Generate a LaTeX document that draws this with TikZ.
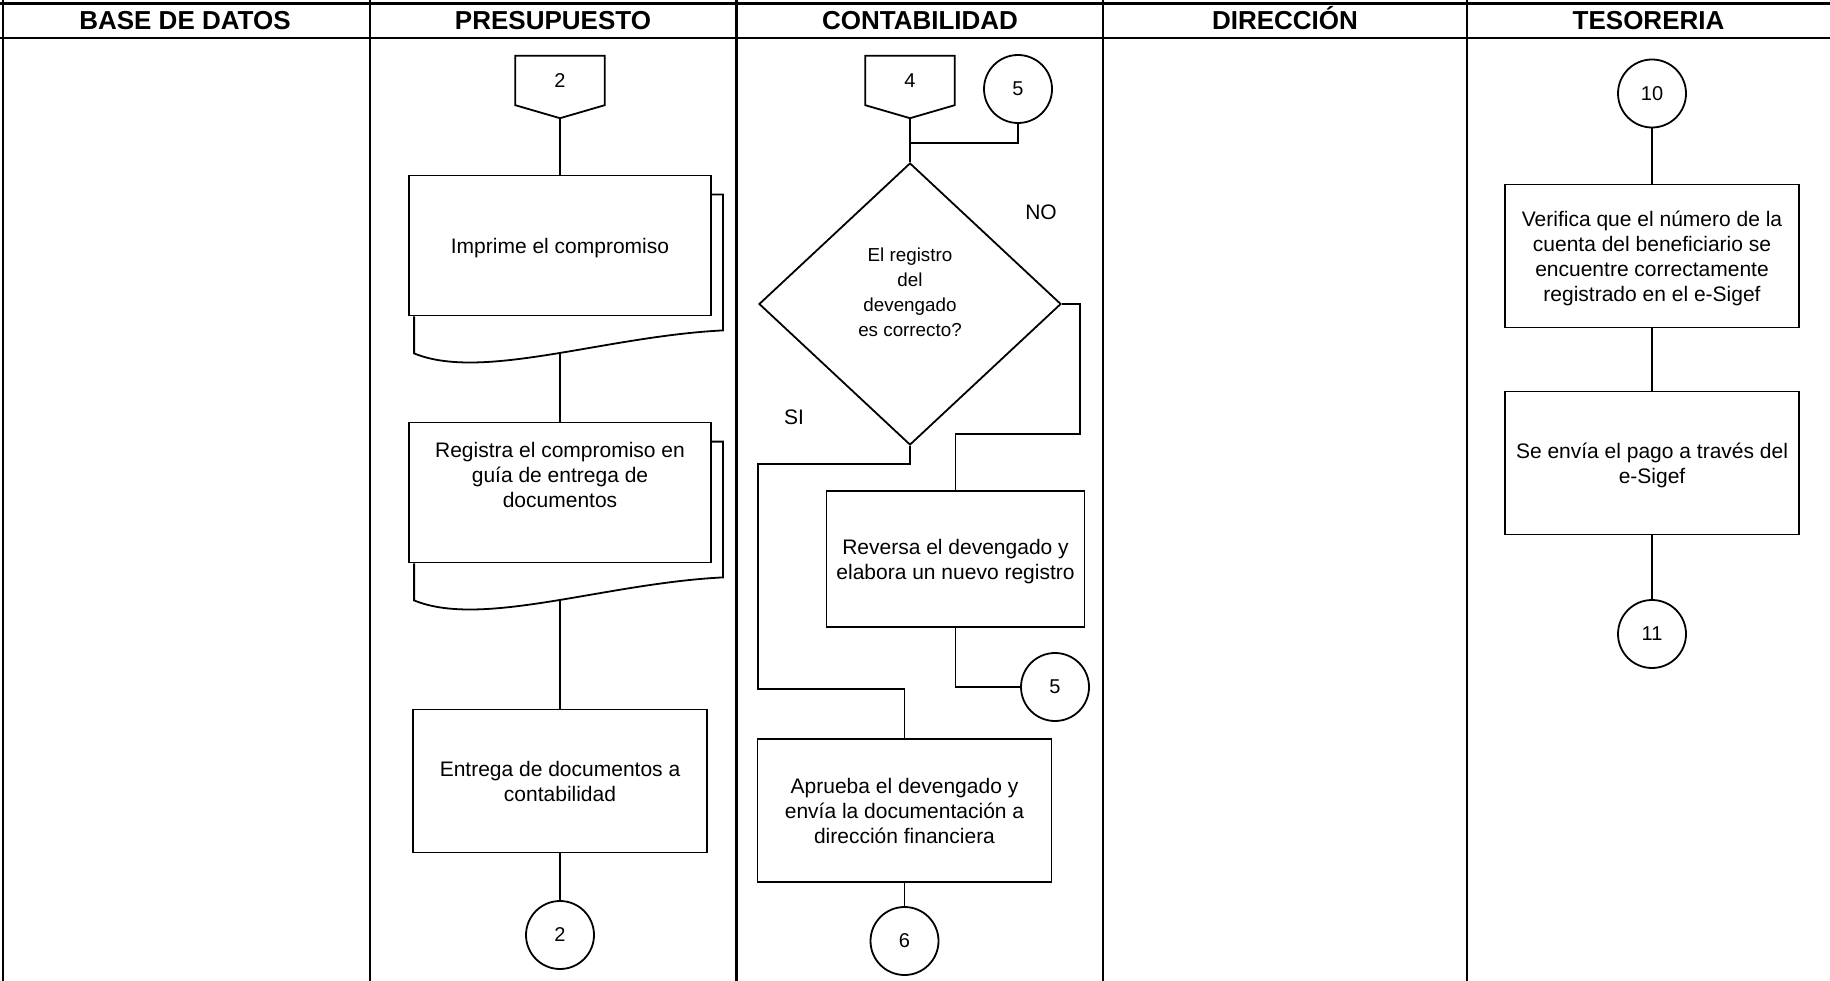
\documentclass[tikz,border=0pt]{standalone}
\usepackage{fontspec}
\setmainfont{Liberation Sans}
\usetikzlibrary{positioning, shapes.geometric}
\tikzset{node distance = 2cm, on grid,
         every node/.style = {font = \fontsize{21}{25}\selectfont},
         tabla/.style = {line width = 2.7pt},
         flujo/.style = {line width = 1.8pt},
         titulo/.style = {anchor = base, font = \fontsize{26}{30}\selectfont\bfseries},
         proceso/.style = {draw, flujo, align = center, inner sep = 0pt, text depth = 0pt},
         documento/.style = {proceso, minimum width = 302pt, minimum height = 140pt},
         tarea/.style = {proceso, minimum width = 294pt, minimum height = 143pt},
         conector/.style = {draw, flujo, circle, minimum size = 68pt, inner sep = 0pt,
                            font = \fontsize{20}{24}\selectfont},
         pagina/.style = {minimum width = 89pt, minimum height = 49pt, inner sep = 0pt,
                          font = \fontsize{20}{24}\selectfont},
         decision/.style = {draw, flujo, diamond, minimum width = 302pt,
                            minimum height = 282pt, inner sep = 0pt, align = center,
                            font = \fontsize{18.8}{25}\selectfont}}

% conector de pagina (pentagono hacia abajo)
\newcommand{\pentagono}[1]{%
  \draw[flujo] (#1.north west) -- (#1.north east) -- (#1.south east)
    -- ([yshift=-13pt]#1.south) -- (#1.south west) -- cycle;
  \coordinate (#1-p) at ([yshift=-13pt]#1.south);}

% hojas de atras del multidocumento
\newcommand{\hojas}[1]{%
  \draw[flujo] ([yshift=-20pt]#1.north east) -- ++(11,0)
    -- ([xshift=11pt,yshift=-14pt]#1.south east)
    .. controls +(-119,6) and +(68,28) .. ([xshift=6pt,yshift=-37pt]#1.south west)
    -- ([xshift=6pt]#1.south west);
  \coordinate (#1-w) at ([yshift=-37pt]#1.south);}

\begin{document}
\begin{tikzpicture}[x = 1pt, y = -1pt]
\useasboundingbox (0,0) rectangle (1830,981);

% tabla
\draw[tabla] (0,3.5) -- (1830,3.5);
\draw[tabla] (0,38) -- (1830,38);
\draw[tabla] (3,0) -- (3,981);
\draw[tabla] (370,0) -- (370,981);
\draw[tabla] (736.5,0) -- (736.5,981);
\draw[tabla] (1103,0) -- (1103,981);
\draw[tabla] (1467,0) -- (1467,981);

\node[titulo] (tbase) at (185,30) {BASE DE DATOS};
\node[titulo] (tpres) at (553,30) {PRESUPUESTO};
\node[titulo] (tcont) at (920,30) {CONTABILIDAD};
\node[titulo] (tdir)  at (1285,30) {DIRECCIÓN};
\node[titulo] (ttes)  at (1648.5,30) {TESORERIA};

% presupuesto
\node[pagina]    (of2)      at (560,80.5)              {2};
\pentagono{of2}
\node[documento] (imprime)  [below = 165pt of of2]     {Imprime el compromiso};
\hojas{imprime}
\node[documento] (registra) [below = 247pt of imprime] {Registra el compromiso en\\guía de entrega de\\documentos\\[10pt]\mbox{}};
\hojas{registra}
\node[tarea]     (entrega)  [below = 288.5pt of registra] {Entrega de documentos a\\contabilidad};
\node[conector]  (c2)       [below = 154pt of entrega] {2};

\draw[flujo] (of2-p) -- (imprime);
\draw[flujo] (imprime-w) -- (registra);
\draw[flujo] (registra-w) -- (entrega);
\draw[flujo] (entrega) -- (c2);

% contabilidad
\node[pagina]   (of4)     at (910,80.5) {4};
\pentagono{of4}
\node[conector] (c5a)     at (1018,89)  {5};
\coordinate     (union)   at (910,143);
\node[decision] (dec)     at (910,304)  {El registro\\del\\devengado\\es correcto?\\[-2pt]\mbox{}};
\node           (no)      at (1041,212) {NO};
\node           (si)      at (794,417)  {SI};
\node[proceso, minimum width = 258pt, minimum height = 136pt]
                (reversa) at (955.5,559) {Reversa el devengado y\\elabora un nuevo registro};
\node[conector] (c5b)     at (1055,687) {5};
\node[tarea]    (aprueba) at (904.5,810.5) {Aprueba el devengado y\\envía la documentación a\\dirección financiera};
\node[conector] (c6)      [below = 130.5pt of aprueba] {6};

\draw[flujo] (of4-p) -- (dec.north);
\draw[flujo] (c5a.south) |- (union);
\draw[flujo] (dec.east) -- ++(18,0) |- ([yshift=56pt]reversa.north) -- (reversa.north);
\draw[flujo] (dec.south) |- ++(-152,18) -- ++(0,225) -| (aprueba.north);
\draw[flujo] (reversa.south) |- (c5b.west);
\draw[flujo] (aprueba) -- (c6);

% tesoreria
\node[conector] (c10)      at (1652,93.5) {10};
\node[tarea]    (verifica) [below = 162.5pt of c10] {Verifica que el número de la\\cuenta del beneficiario se\\encuentre correctamente\\registrado en el e-Sigef};
\node[tarea]    (envia)    [below = 207pt of verifica] {Se envía el pago a través del\\e-Sigef};
\node[conector] (c11)      [below = 171pt of envia] {11};

\draw[flujo] (c10) -- (verifica);
\draw[flujo] (verifica) -- (envia);
\draw[flujo] (envia) -- (c11);
\end{tikzpicture}
\end{document}
